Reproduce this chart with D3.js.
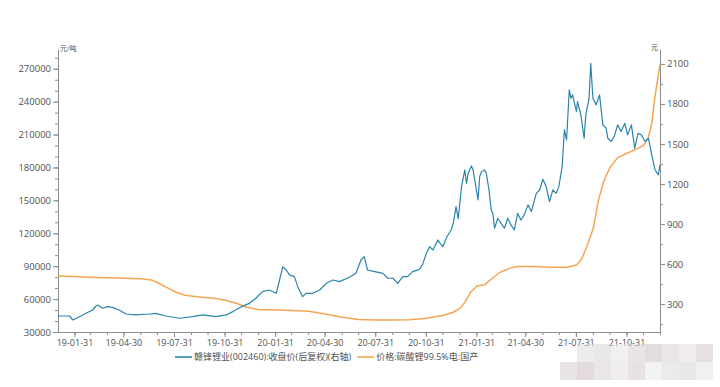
<!DOCTYPE html>
<html><head><meta charset="utf-8">
<script src="https://cdn.jsdelivr.net/npm/d3@7"></script>
<style>
html,body{margin:0;padding:0;background:#fff;}
svg{display:block;}
text{font-family:"Open Sans","Noto Sans CJK SC",sans-serif;}
</style></head>
<body>
<svg id="chart" width="720" height="387"></svg>
<script>
// ---------------- data ----------------
const seriesNames = ["赣锋锂业(002460):收盘价(后复权)(右轴)", "价格:碳酸锂99.5%电:国产"];
const leftUnit = "元/吨";
const rightUnit = "元";
const leftTicks = [30000, 60000, 90000, 120000, 150000, 180000, 210000, 240000, 270000];
const rightTicks = [300, 600, 900, 1200, 1500, 1800, 2100];
const xTickDates = ["2019-01-31","2019-04-30","2019-07-31","2019-10-31","2020-01-31","2020-04-30",
  "2020-07-31","2020-10-31","2021-01-31","2021-04-30","2021-07-31","2021-10-31"];

// 赣锋锂业 收盘价(后复权) – right axis
const stockDates = [
  "2019-01-01","2019-01-22","2019-01-28","2019-02-09","2019-02-21","2019-03-05","2019-03-11","2019-03-14","2019-03-23","2019-04-01",
  "2019-04-10","2019-04-22","2019-05-05","2019-05-23","2019-06-16","2019-06-28","2019-07-16","2019-08-10","2019-09-03","2019-09-21",
  "2019-10-15","2019-11-03","2019-11-15","2019-12-01","2019-12-15","2019-12-27","2020-01-08","2020-01-20","2020-02-02","2020-02-08",
  "2020-02-14","2020-02-20","2020-02-26","2020-03-06","2020-03-12","2020-03-21","2020-03-27","2020-04-08","2020-04-21","2020-05-03",
  "2020-05-15","2020-05-27","2020-06-14","2020-06-26","2020-07-05","2020-07-11","2020-07-17","2020-07-30","2020-08-14","2020-08-23",
  "2020-09-01","2020-09-10","2020-09-19","2020-09-28","2020-10-07","2020-10-19","2020-10-25","2020-11-01","2020-11-07","2020-11-13",
  "2020-11-22","2020-11-26","2020-12-01","2020-12-08","2020-12-16","2020-12-20","2020-12-25","2020-12-29","2021-01-04","2021-01-10",
  "2021-01-13","2021-01-16","2021-01-22","2021-01-25","2021-01-28","2021-02-03","2021-02-06","2021-02-09","2021-02-15","2021-02-18",
  "2021-02-23","2021-02-27","2021-03-02","2021-03-05","2021-03-11","2021-03-17","2021-03-23","2021-03-29","2021-04-04","2021-04-10",
  "2021-04-16","2021-04-22","2021-04-28","2021-05-05","2021-05-11","2021-05-20","2021-05-26","2021-06-01","2021-06-07","2021-06-13",
  "2021-06-19","2021-06-25","2021-06-30","2021-07-06","2021-07-10","2021-07-14","2021-07-19","2021-07-22","2021-07-25","2021-08-01",
  "2021-08-03","2021-08-09","2021-08-15","2021-08-18","2021-08-24","2021-08-27","2021-08-31","2021-09-06","2021-09-12","2021-09-18",
  "2021-09-24","2021-09-27","2021-10-03","2021-10-09","2021-10-15","2021-10-21","2021-10-28","2021-11-02","2021-11-09","2021-11-15",
  "2021-11-21","2021-11-27","2021-12-04","2021-12-10","2021-12-16","2021-12-22","2021-12-28","2021-12-31"];
const stockClose = [
  210,210,180,205,230,255,285,292,268,280,
  275,255,225,218,225,230,210,193,205,218,
  205,218,243,280,305,343,393,405,380,480,
  580,555,518,505,430,355,380,380,405,455,
  480,468,500,530,630,655,555,543,530,493,
  493,455,505,505,543,560,593,680,730,705,
  780,755,730,800,855,905,1030,940,1180,1305,
  1205,1280,1335,1305,1230,1080,1255,1290,1305,1280,
  1155,1005,980,868,943,905,868,943,893,855,
  980,930,968,1043,993,1130,1155,1235,1180,1068,
  1155,1130,1180,1330,1605,1530,1905,1843,1868,1743,
  1818,1718,1543,1718,1843,2105,1843,1793,1868,1643,
  1618,1543,1518,1560,1643,1593,1655,1568,1643,1468,
  1580,1568,1518,1543,1418,1305,1268,1343];

// 价格:碳酸锂99.5%电:国产 – left axis (元/吨)
const lithiumDates = ["2019-01-01","2019-02-01","2019-03-01","2019-04-01","2019-05-01","2019-06-01","2019-06-20","2019-07-05","2019-07-20","2019-08-05",
  "2019-08-20","2019-09-15","2019-10-15","2019-11-01","2019-11-20","2019-12-10","2020-01-01","2020-02-01","2020-03-01","2020-04-01",
  "2020-05-01","2020-06-01","2020-07-01","2020-08-01","2020-09-01","2020-10-01","2020-11-01","2020-12-01","2020-12-20","2021-01-01",
  "2021-01-10","2021-01-20","2021-02-01","2021-02-15","2021-03-01","2021-03-15","2021-04-01","2021-04-15","2021-05-15","2021-06-15",
  "2021-07-15","2021-08-01","2021-08-10","2021-08-20","2021-09-01","2021-09-10","2021-09-20","2021-10-01","2021-10-15","2021-11-01",
  "2021-11-15","2021-12-01","2021-12-10","2021-12-16","2021-12-22","2021-12-31"];
const lithiumPrice = [81000,80500,80000,79500,79000,78500,77500,74000,70000,66000,
  63500,62000,60500,59000,56500,52500,50500,50000,49600,49000,
  46500,43500,41500,41000,41000,41200,42500,45000,48000,51500,
  57000,66000,72000,73000,79000,84500,88000,89800,89800,89000,
  89000,91000,96000,108000,125000,150000,168000,180000,189000,193000,
  196000,200000,208000,220000,245000,274000];

// ---------------- chart ----------------
const parse = d3.timeParse("%Y-%m-%d");
const stock = stockDates.map((d,i)=>({date:parse(d), value:stockClose[i]}));
const lithium = lithiumDates.map((d,i)=>({date:parse(d), value:lithiumPrice[i]}));

const svg = d3.select("#chart");
const L = 58, R = 660, T = 49, B = 332;
const axisColor = "#8c8c8c", textColor = "#505050";
const blue = "#2b84ab", orange = "#f5a552";

const x = d3.scaleTime().domain([parse("2019-01-01"), parse("2021-12-31")]).range([L, R]);
const yL = d3.scaleLinear().domain([30000, 288000]).range([B, T]);
const yR = d3.scaleLinear().domain([90, 2212]).range([B, T]);

function styleAxis(g){
  g.select(".domain").attr("stroke", axisColor);
  g.selectAll(".tick line").attr("stroke", axisColor);
  g.selectAll(".tick text").attr("fill", textColor);
}

// minor ticks
const xMinor = d3.timeMonth.range(parse("2019-01-01"), parse("2022-01-01")).map(d=>d3.timeDay.offset(d3.timeMonth.offset(d,1),-1));
svg.append("g").attr("transform",`translate(0,${B})`)
  .call(d3.axisBottom(x).tickValues(xMinor).tickSize(3).tickFormat(""))
  .call(g=>{g.select(".domain").remove(); g.selectAll("line").attr("stroke",axisColor);});
svg.append("g").attr("transform",`translate(${L},0)`)
  .call(d3.axisLeft(yL).tickValues(d3.range(30000, 288000, 10000)).tickSize(3).tickFormat(""))
  .call(g=>{g.select(".domain").remove(); g.selectAll("line").attr("stroke",axisColor);});
svg.append("g").attr("transform",`translate(${R},0)`)
  .call(d3.axisRight(yR).tickValues(d3.range(150, 2212, 150)).tickSize(3).tickFormat(""))
  .call(g=>{g.select(".domain").remove(); g.selectAll("line").attr("stroke",axisColor);});

// major axes
const fmt = d3.timeFormat("%y-%m-%d");
svg.append("g").attr("transform",`translate(0,${B})`)
  .call(d3.axisBottom(x).tickValues(xTickDates.map(parse)).tickFormat(fmt).tickSize(5).tickSizeOuter(0).tickPadding(3))
  .call(styleAxis)
  .call(g=>g.selectAll(".tick text").attr("font-size",9).attr("font-family",'"Open Sans",sans-serif'));

svg.append("g").attr("transform",`translate(${L},0)`)
  .call(d3.axisLeft(yL).tickValues(leftTicks).tickFormat(d3.format("d")).tickSize(5).tickSizeOuter(0).tickPadding(2))
  .call(styleAxis)
  .call(g=>g.selectAll(".tick text").attr("font-size",9.5).attr("font-family",'"Open Sans",sans-serif'));

svg.append("g").attr("transform",`translate(${R},0)`)
  .call(d3.axisRight(yR).tickValues(rightTicks).tickFormat(d3.format("d")).tickSize(5).tickSizeOuter(0).tickPadding(2))
  .call(styleAxis)
  .call(g=>g.selectAll(".tick text").attr("font-size",9.5).attr("font-family",'"Open Sans",sans-serif'));

// unit labels
svg.append("text").attr("x", L+2).attr("y", T+2).attr("font-size",7).attr("fill",textColor)
  .attr("font-family",'"Noto Sans CJK SC",sans-serif').text(leftUnit);
svg.append("text").attr("x", R-2).attr("y", T+1).attr("text-anchor","end").attr("font-size",7).attr("fill",textColor)
  .attr("font-family",'"Noto Sans CJK SC",sans-serif').text(rightUnit);

// lines
const lineL = d3.line().x(d=>x(d.date)).y(d=>yL(d.value));
const lineR = d3.line().x(d=>x(d.date)).y(d=>yR(d.value));
svg.append("path").datum(lithium).attr("d", lineL).attr("fill","none")
  .attr("stroke", orange).attr("stroke-width",1.5).attr("stroke-linejoin","round");
svg.append("path").datum(stock).attr("d", lineR).attr("fill","none")
  .attr("stroke", blue).attr("stroke-width",1.2).attr("stroke-linejoin","round");

// legend
const leg = svg.append("g").attr("font-family",'"Noto Sans CJK SC",sans-serif').attr("font-size",9).attr("fill",textColor);
let lx = 175; const ly = 360;
[[seriesNames[0], blue],[seriesNames[1], orange]].forEach(([name,col])=>{
  leg.append("line").attr("x1",lx).attr("x2",lx+17).attr("y1",ly-3).attr("y2",ly-3).attr("stroke",col).attr("stroke-width",1.6);
  const t = leg.append("text").attr("x",lx+19).attr("y",ly).text(name);
  lx += 19 + t.node().getComputedTextLength() + 6;
});

// pixelated watermark (decoration)
const mosaic = svg.append("g").attr("opacity",0.55);
const mcols = ["#e8e8e8","#dcdcdc","#d6d6d6","#e4e4e4","#d8cfd0","#cdbfc1","#d9d2d3","#e5e0e1","#d4cacc"];
for(let r=0;r<2;r++){
  for(let c=0;c<9;c++){
    if(r===0 && c===0) continue;
    mosaic.append("rect").attr("x",560+c*17).attr("y",344+r*18).attr("width",17).attr("height",18)
      .attr("fill", mcols[(c+r*4)%mcols.length]);
  }
}
</script>
</body></html>
